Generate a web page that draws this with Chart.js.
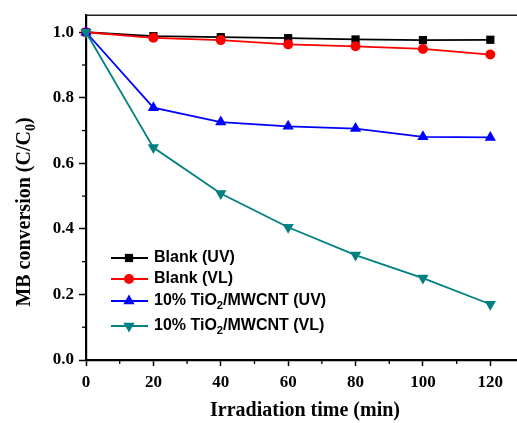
<!DOCTYPE html>
<html>
<head>
<meta charset="utf-8">
<script src="https://cdn.jsdelivr.net/npm/chart.js@4/dist/chart.umd.min.js"></script>
<style>
  html, body { margin: 0; padding: 0; background: #fff; overflow: hidden; }
  #wrap { width: 517px; height: 423px; overflow: hidden; position: relative; }
  #c { position: absolute; left: 0; top: 0; }
</style>
</head>
<body>
<div id="wrap"><canvas id="c" width="545" height="423"></canvas></div>
<script>
// ---- data ----
const times = [0, 20, 40, 60, 80, 100, 120];
const blankUV = [1.0, 0.988, 0.985, 0.982, 0.978, 0.976, 0.977];
const blankVL = [1.0, 0.983, 0.976, 0.963, 0.957, 0.949, 0.932];
const tioUV   = [1.0, 0.770, 0.726, 0.713, 0.706, 0.681, 0.679];
const tioVL   = [1.0, 0.648, 0.508, 0.405, 0.320, 0.250, 0.170];
const seriesNames = ['Blank (UV)', 'Blank (VL)', '10% TiO|2|/MWCNT (UV)', '10% TiO|2|/MWCNT (VL)'];
const xTicks = [0, 20, 40, 60, 80, 100, 120];
const xMinor = [10, 30, 50, 70, 90, 110, 130];
const yTicks = [0.0, 0.2, 0.4, 0.6, 0.8, 1.0];
const yMinor = [0.1, 0.3, 0.5, 0.7, 0.9];

const pts = arr => arr.map((v, i) => ({ x: times[i], y: v }));

const styles = [
  { color: '#000000', pointStyle: 'rect', radius: 5.8, rotation: 0 },
  { color: '#ff0000', pointStyle: 'circle', radius: 5, rotation: 0 },
  { color: '#0000ff', pointStyle: 'triangle', radius: 6.5, rotation: 0 },
  { color: '#008080', pointStyle: 'triangle', radius: 6.5, rotation: 180 }
];
const allData = [blankUV, blankVL, tioUV, tioVL];

const datasets = allData.map((d, i) => ({
  label: seriesNames[i].replace(/\|/g, ''),
  data: pts(d),
  borderColor: styles[i].color,
  backgroundColor: styles[i].color,
  pointBackgroundColor: styles[i].color,
  pointBorderColor: styles[i].color,
  pointBorderWidth: 0,
  pointStyle: styles[i].pointStyle,
  pointRadius: styles[i].radius,
  pointHoverRadius: styles[i].radius,
  pointRotation: styles[i].rotation,
  borderWidth: 1.8,
  tension: 0,
  clip: false,
  order: 4 - i
}));

const serif = '"Liberation Serif", "Times New Roman", serif';
const sans = '"Liberation Sans", Arial, sans-serif';

function drawRich(ctx, text, x, y, size, family, align) {
  const parts = text.split('|');
  let total = 0;
  const widths = parts.map((p, i) => {
    ctx.font = 'bold ' + (i % 2 ? size * 0.7 : size) + 'px ' + family;
    const w = ctx.measureText(p).width;
    total += w;
    return w;
  });
  let cx = align === 'center' ? x - total / 2 : x;
  parts.forEach((p, i) => {
    const sub = i % 2 === 1;
    ctx.font = 'bold ' + (sub ? size * 0.7 : size) + 'px ' + family;
    ctx.textAlign = 'left';
    ctx.textBaseline = 'middle';
    ctx.fillText(p, cx, sub ? y + size * 0.3 : y);
    cx += widths[i];
  });
}

const decor = {
  id: 'decor',
  afterDraw(chart) {
    const ctx = chart.ctx;
    const a = chart.chartArea;
    const xs = chart.scales.x, ys = chart.scales.y;
    ctx.save();
    ctx.strokeStyle = '#222';
    ctx.lineWidth = 1.6;
    ctx.beginPath();
    ctx.moveTo(a.left, a.top);
    ctx.lineTo(a.right + 10, a.top);
    ctx.stroke();
    ctx.strokeStyle = '#000';
    ctx.lineWidth = 1.3;
    xMinor.forEach(v => {
      const px = xs.getPixelForValue(v);
      ctx.beginPath(); ctx.moveTo(px, a.bottom); ctx.lineTo(px, a.bottom + 4); ctx.stroke();
    });
    yMinor.forEach(v => {
      const py = ys.getPixelForValue(v);
      ctx.beginPath(); ctx.moveTo(a.left, py); ctx.lineTo(a.left - 4, py); ctx.stroke();
    });
    ctx.fillStyle = '#000';
    ctx.save();
    ctx.translate(25, 212);
    ctx.rotate(-Math.PI / 2);
    drawRich(ctx, 'MB conversion (C/C|0|)', 0, 0, 20, serif, 'center');
    ctx.restore();
    const rows = [258, 279, 301, 326];
    chart.data.datasets.forEach((ds, i) => {
      const y = rows[i];
      ctx.strokeStyle = ds.borderColor;
      ctx.lineWidth = 1.8;
      ctx.beginPath(); ctx.moveTo(111, y); ctx.lineTo(148, y); ctx.stroke();
      ctx.fillStyle = ds.pointBackgroundColor;
      Chart.helpers.drawPoint(ctx, {
        pointStyle: ds.pointStyle, radius: ds.pointRadius, rotation: ds.pointRotation, borderWidth: 0
      }, 129, y);
      ctx.fillStyle = '#000';
      drawRich(ctx, seriesNames[i], 154, y, 16, sans, 'left');
    });
    ctx.restore();
  }
};

new Chart(document.getElementById('c'), {
  type: 'line',
  data: { datasets },
  options: {
    responsive: false,
    animation: false,
    events: [],
    layout: { padding: { left: 0, right: 21, top: 15, bottom: 0 } },
    plugins: { legend: { display: false }, tooltip: { enabled: false }, title: { display: false } },
    scales: {
      x: {
        type: 'linear', min: 0, max: 130,
        afterBuildTicks: s => { s.ticks = xTicks.map(v => ({ value: v })); },
        afterFit: s => { s.height = 63; },
        grid: { drawOnChartArea: false, drawTicks: true, tickLength: 6, tickColor: '#000', tickWidth: 1.5 },
        border: { display: true, color: '#000', width: 2.2 },
        ticks: { color: '#000', font: { family: serif, size: 17, weight: 'bold' }, padding: 6, maxRotation: 0, autoSkip: false },
        title: { display: true, text: 'Irradiation time (min)', color: '#000', font: { family: serif, size: 20, weight: 'bold' }, padding: { top: 11, bottom: 0 } }
      },
      y: {
        type: 'linear', min: 0, max: 1.052,
        afterBuildTicks: s => { s.ticks = yTicks.map(v => ({ value: v })); },
        afterFit: s => { s.width = 86; },
        grid: { drawOnChartArea: false, drawTicks: true, tickLength: 7, tickColor: '#000', tickWidth: 1.5 },
        border: { display: true, color: '#000', width: 2.2 },
        ticks: { color: '#000', font: { family: serif, size: 17, weight: 'bold' }, padding: 5, callback: v => Number(v).toFixed(1) }
      }
    }
  },
  plugins: [decor]
});
</script>
</body>
</html>
